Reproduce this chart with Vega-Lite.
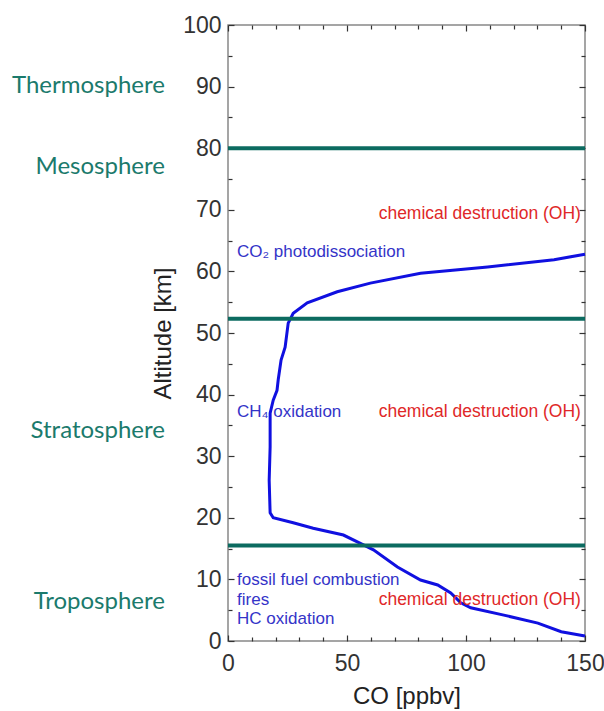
{
  "$schema": "https://vega.github.io/schema/vega-lite/v6.json",
  "autosize": {"type": "none"},
  "width": 357,
  "height": 616,
  "padding": {"left": 228, "top": 25, "right": 19, "bottom": 70},
  "background": "white",
  "config": {
    "view": {"stroke": "#888888", "strokeWidth": 1.5},
    "font": "Liberation Sans"
  },
  "datasets": {
    "profile": [
      {"co": 150, "alt": 0.8}, {"co": 140, "alt": 1.5}, {"co": 130.2, "alt": 2.9},
      {"co": 115.9, "alt": 4.2}, {"co": 102, "alt": 5.4}, {"co": 97.8, "alt": 6.2},
      {"co": 93.6, "alt": 7.8}, {"co": 88.1, "alt": 9.1}, {"co": 80.9, "alt": 9.9},
      {"co": 71.2, "alt": 12.0}, {"co": 61.1, "alt": 14.8}, {"co": 56.9, "alt": 15.6},
      {"co": 48.5, "alt": 17.2}, {"co": 35.8, "alt": 18.3}, {"co": 27.4, "alt": 19.2},
      {"co": 19.0, "alt": 20.0}, {"co": 17.7, "alt": 20.8}, {"co": 17.3, "alt": 26.1},
      {"co": 17.7, "alt": 31.5}, {"co": 17.7, "alt": 37.0}, {"co": 19.0, "alt": 39.1},
      {"co": 20.6, "alt": 40.7}, {"co": 21.1, "alt": 42.4}, {"co": 22.3, "alt": 45.6},
      {"co": 24.0, "alt": 47.7}, {"co": 25.3, "alt": 51.6}, {"co": 27.4, "alt": 53.2},
      {"co": 33.3, "alt": 54.9}, {"co": 45.9, "alt": 56.7}, {"co": 59.8, "alt": 58.1},
      {"co": 80.9, "alt": 59.7}, {"co": 109.1, "alt": 60.7}, {"co": 137, "alt": 61.9},
      {"co": 150, "alt": 62.8}
    ],
    "layers": [
      {"alt": 80}, {"alt": 52.3}, {"alt": 15.5}
    ],
    "bluetext": [
      {"co": 3.8, "alt": 63.1, "label": "CO₂ photodissociation"},
      {"co": 3.8, "alt": 37.2, "label": "CH₄ oxidation"},
      {"co": 3.8, "alt": 9.9, "label": "fossil fuel combustion"},
      {"co": 3.8, "alt": 6.7, "label": "fires"},
      {"co": 3.8, "alt": 3.6, "label": "HC oxidation"}
    ],
    "redtext": [
      {"co": 148.3, "alt": 69.3, "label": "chemical destruction (OH)"},
      {"co": 148.3, "alt": 37.2, "label": "chemical destruction (OH)"},
      {"co": 148.3, "alt": 6.7, "label": "chemical destruction (OH)"}
    ],
    "spheres": [
      {"co": -26.5, "alt": 90.1, "label": "Thermosphere"},
      {"co": -26.5, "alt": 77.0, "label": "Mesosphere"},
      {"co": -26.5, "alt": 34.1, "label": "Stratosphere"},
      {"co": -26.5, "alt": 6.3, "label": "Troposphere"}
    ]
  },
  "resolve": {"axis": {"x": "independent", "y": "independent"}},
  "layer": [
    {
      "data": {"name": "profile"},
      "mark": {"type": "line", "color": "#1010e0", "strokeWidth": 3},
      "encoding": {
        "x": {
          "field": "co", "type": "quantitative",
          "scale": {"domain": [0, 150], "nice": false, "zero": false},
          "axis": {
            "orient": "bottom",
            "title": "CO [ppbv]",
            "values": [0,10,20,30,40,50,60,70,80,90,100,110,120,130,140,150],
            "labelExpr": "datum.value % 50 === 0 ? datum.label : ''",
            "tickSize": {"condition": {"test": "datum.value % 50 === 0", "value": -6}, "value": -4},
            "tickColor": "#333", "tickWidth": 1.2,
            "domain": false, "grid": false,
            "labelFontSize": 23, "labelColor": "#333", "labelPadding": 17,
            "labelFlush": false,
            "titleFontSize": 24, "titleFontWeight": "normal", "titleColor": "#222", "titlePadding": 9
          }
        },
        "y": {
          "field": "alt", "type": "quantitative",
          "scale": {"domain": [0, 100], "nice": false},
          "axis": {
            "orient": "left",
            "title": "Altitude [km]",
            "values": [0,5,10,15,20,25,30,35,40,45,50,55,60,65,70,75,80,85,90,95,100],
            "labelExpr": "datum.value % 10 === 0 ? datum.label : ''",
            "tickSize": {"condition": {"test": "datum.value % 10 === 0", "value": -6}, "value": -4},
            "tickColor": "#333", "tickWidth": 1.2,
            "domain": false, "grid": false,
            "labelFontSize": 23, "labelColor": "#333", "labelPadding": 13,
            "labelFlush": false,
            "titleFontSize": 24, "titleFontWeight": "normal", "titleColor": "#222", "titlePadding": 7
          }
        },
        "order": {"field": "alt", "type": "quantitative"}
      }
    },
    {
      "data": {"name": "layers"},
      "mark": {"type": "rule", "color": "#0c6b60", "strokeWidth": 4},
      "encoding": {
        "y": {
          "field": "alt", "type": "quantitative",
          "axis": {
            "orient": "right", "title": null, "labels": false, "domain": false, "grid": false,
            "values": [0,5,10,15,20,25,30,35,40,45,50,55,60,65,70,75,80,85,90,95,100],
            "tickSize": {"condition": {"test": "datum.value % 10 === 0", "value": -6}, "value": -4},
            "tickColor": "#333", "tickWidth": 1.2
          }
        },
        "x": {"datum": 0, "type": "quantitative",
          "axis": {
            "orient": "top", "title": null, "labels": false, "domain": false, "grid": false,
            "values": [0,10,20,30,40,50,60,70,80,90,100,110,120,130,140,150],
            "tickSize": {"condition": {"test": "datum.value % 50 === 0", "value": -6}, "value": -4},
            "tickColor": "#333", "tickWidth": 1.2
          }
        },
        "x2": {"datum": 150}
      }
    },
    {
      "data": {"name": "bluetext"},
      "mark": {"type": "text", "align": "left", "baseline": "middle", "fontSize": 17, "color": "#3434c8"},
      "encoding": {
        "x": {"field": "co", "type": "quantitative", "axis": null},
        "y": {"field": "alt", "type": "quantitative", "axis": null},
        "text": {"field": "label"}
      }
    },
    {
      "data": {"name": "redtext"},
      "mark": {"type": "text", "align": "right", "baseline": "middle", "fontSize": 17.5, "color": "#e02828"},
      "encoding": {
        "x": {"field": "co", "type": "quantitative", "axis": null},
        "y": {"field": "alt", "type": "quantitative", "axis": null},
        "text": {"field": "label"}
      }
    },
    {
      "data": {"name": "spheres"},
      "mark": {"type": "text", "align": "right", "baseline": "middle", "fontSize": 24, "color": "#1b7a6c", "font": "Lato"},
      "encoding": {
        "x": {"field": "co", "type": "quantitative", "axis": null},
        "y": {"field": "alt", "type": "quantitative", "axis": null},
        "text": {"field": "label"}
      }
    }
  ]
}
